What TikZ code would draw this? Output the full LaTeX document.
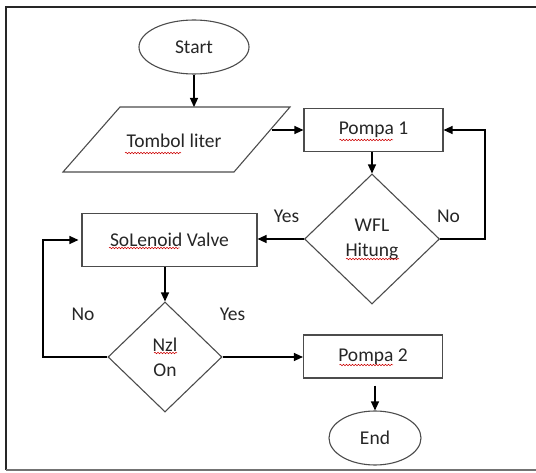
\documentclass[tikz,border=0pt]{standalone}
\usepackage{fontspec}
\setmainfont{Carlito}
\usetikzlibrary{shapes.geometric,arrows.meta,decorations.pathmorphing}
\begin{document}
\begin{tikzpicture}[x=1pt,y=-1pt,
  every node/.style={font=\fontsize{19.5}{25}\selectfont, text=black!85},
  shp/.style={draw=black!70, line width=1.1pt, inner sep=0pt},
  procbox/.style={shp, rectangle, minimum width=139pt, minimum height=43pt},
  term/.style={shp, ellipse},
  decis/.style={shp, diamond, align=center},
  arr/.style={draw=black, line width=1.2pt, -{Triangle[length=9pt,width=8pt]}},
  lbl/.style={inner sep=0pt},
  spell/.style={draw=red!80!black, line width=0.5pt, decorate, decoration={snake, amplitude=0.8pt, segment length=3pt}}
]
\useasboundingbox (0,0) rectangle (536,473);
% frame
\draw[line width=2.4pt, black!85] (536,7) -- (6,7) -- (6,470);
\draw[line width=1.4pt, black!55] (6,470) -- (536,470);

% nodes
\node[term, minimum width=110pt, minimum height=54pt] (start) at (194,47) {Start};
\coordinate (ptl) at (120,107);
\coordinate (ptr) at (290,107);
\coordinate (pbr) at (234,172);
\coordinate (pbl) at (63,172);
\draw[shp] (ptl) -- (ptr) -- (pbr) -- (pbl) -- cycle;
\node[inner sep=0pt] (tombol) at (174,141) {Tombol liter};
\coordinate (tombolR) at (272,130);
\node[procbox] (pompa1) at (373.5,130) {Pompa 1};
\node[decis, minimum width=135pt, minimum height=130pt] (wfl) at (372,239) {WFL\\Hitung};
\node[procbox, minimum width=175pt, minimum height=53pt] (sol) at (169.5,240) {SoLenoid Valve};
\node[decis, minimum width=114pt, minimum height=110pt] (nzl) at (165,357) {Nzl\\On};
\node[procbox] (pompa2) at (373,356.5) {Pompa 2};
\node[term, minimum width=92pt, minimum height=54pt] (end) at (375,438) {End};

% labels
\node[lbl] (yes1) at (286.5,216) {Yes};
\node[lbl] (no1) at (448.5,216) {No};
\node[lbl] (no2) at (83,314) {No};
\node[lbl] (yes2) at (232.5,314) {Yes};

% connectors
\draw[arr] (start.south) -- (start.south |- ptl);
\draw[arr] (tombolR) -- (pompa1.west);
\draw[arr] (pompa1.south -| wfl.north) -- (wfl.north);
\coordinate (rloop) at (485,239);
\draw[arr] (wfl.east) -- (rloop) |- (pompa1.east);
\draw[arr] (wfl.west) -- (wfl.west -| sol.east);
\draw[arr] (nzl.north |- sol.south) -- (nzl.north);
\coordinate (lloop) at (43,357);
\draw[arr, shorten >=3pt] (nzl.west) -- (lloop) |- (sol.west);
\draw[arr] (nzl.east) -- (nzl.east -| pompa2.west);
\draw[arr, shorten <=7pt] (pompa2.south -| end.north) -- (end.north);

% spell-check underlines
\draw[spell] (125,153) -- (181,153);
\draw[spell] (339.5,140) -- (393,140);
\draw[spell] (109,248) -- (179.5,248);
\draw[spell] (346,259) -- (399,259);
\draw[spell] (154,353) -- (177,353);
\draw[spell] (339.5,365) -- (393,365);
\end{tikzpicture}
\end{document}
